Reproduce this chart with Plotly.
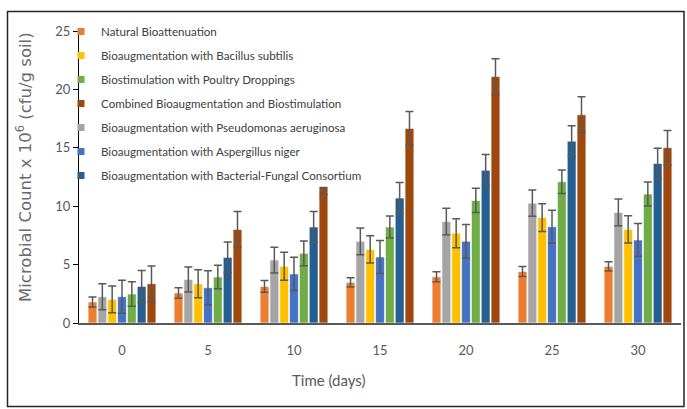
import plotly.graph_objects as go

days = ["0", "5", "10", "15", "20", "25", "30"]

# series names (bar order within each group)
natural_name = "Natural Bioattenuation"
pseudo_name = "Bioaugmentation with Pseudomonas aeruginosa"
bacillus_name = "Bioaugmentation with Bacillus subtilis"
asper_name = "Bioaugmentation with Aspergillus niger"
poultry_name = "Biostimulation with Poultry Droppings"
consort_name = "Bioaugmentation with Bacterial-Fungal Consortium"
combined_name = "Combined Bioaugmentation and Biostimulation"

natural = [1.8, 2.57, 3.13, 3.48, 3.96, 4.41, 4.85]
natural_err = [0.42, 0.45, 0.5, 0.4, 0.42, 0.42, 0.4]
pseudo = [2.25, 3.73, 5.39, 6.99, 8.69, 10.26, 9.47]
pseudo_err = [1.12, 1.07, 1.1, 1.15, 1.13, 1.12, 1.14]
bacillus = [2.02, 3.36, 4.85, 6.3, 7.69, 9.03, 8.01]
bacillus_err = [1.15, 1.2, 1.2, 1.17, 1.24, 1.19, 1.17]
asper = [2.25, 3.02, 4.2, 5.65, 7.0, 8.24, 7.11]
asper_err = [1.42, 1.45, 1.42, 1.42, 1.43, 1.41, 1.4]
poultry = [2.48, 3.94, 5.96, 8.22, 10.49, 12.09, 11.04]
poultry_err = [1.05, 1.0, 1.05, 0.95, 1.04, 1.0, 1.03]
consort = [3.13, 5.62, 8.22, 10.7, 13.08, 15.57, 13.66]
consort_err = [1.37, 1.32, 1.33, 1.32, 1.35, 1.31, 1.3]
combined = [3.36, 8.01, 11.61, 16.66, 21.1, 17.83, 15.01]
combined_err_plus = [1.52, 1.53, 0.0, 1.45, 1.53, 1.55, 1.48]
combined_err_minus = [1.52, 1.53, 0.6, 1.45, 1.53, 1.55, 1.48]

colors = {
    natural_name: "#ED7D31",
    pseudo_name: "#A5A5A5",
    bacillus_name: "#FFC000",
    asper_name: "#4472C4",
    poultry_name: "#70AD47",
    consort_name: "#255E91",
    combined_name: "#9E480E",
}

bar_series = [
    (natural_name, natural, natural_err, natural_err),
    (pseudo_name, pseudo, pseudo_err, pseudo_err),
    (bacillus_name, bacillus, bacillus_err, bacillus_err),
    (asper_name, asper, asper_err, asper_err),
    (poultry_name, poultry, poultry_err, poultry_err),
    (consort_name, consort, consort_err, consort_err),
    (combined_name, combined, combined_err_plus, combined_err_minus),
]

legend_order = [natural_name, bacillus_name, poultry_name, combined_name,
                pseudo_name, asper_name, consort_name]

fig = go.Figure()
for name, vals, ep, em in bar_series:
    fig.add_trace(go.Bar(
        x=days, y=vals, name=name, showlegend=False,
        marker=dict(color=colors[name], line=dict(color="rgba(255,255,255,0.8)", width=0.8)),
        error_y=dict(type="data", array=ep, arrayminus=em, symmetric=False,
                     color="#595959", thickness=1.5, width=4),
    ))

for i, name in enumerate(legend_order):
    fig.add_trace(go.Scatter(
        x=[None], y=[None], mode="markers", name=name,
        legendgroup=f"g{i}",
        marker=dict(symbol="square", size=7, color=colors[name]),
    ))

W, H = 687, 409
L, R, T, B = 79, 6, 31, 86
pw, ph = W - L - R, H - T - B

def px_x(p):
    return (p - L) / pw

def px_y(p):
    return (H - B - p) / ph

fig.update_layout(
    width=W, height=H,
    margin=dict(l=L, r=R, t=T, b=B),
    paper_bgcolor="white", plot_bgcolor="white",
    barmode="group", bargap=0.2, bargroupgap=0.1,
    font=dict(family="Lato", color="#595959"),
    legend=dict(
        x=px_x(61), y=px_y(17), xanchor="left", yanchor="top",
        bgcolor="rgba(0,0,0,0)", tracegroupgap=5,
        font=dict(family="Lato", size=11.6, color="#404040"),
    ),
    xaxis=dict(
        type="category", showline=True, linecolor="#595959", linewidth=2,
        ticks="", showgrid=False, zeroline=False,
        tickfont=dict(family="Lato", size=13, color="#595959"),
        ticklabelstandoff=14,
    ),
    yaxis=dict(
        range=[0, 25], dtick=5, showline=True, linecolor="black", linewidth=1,
        ticks="outside", ticklen=5, tickcolor="black", showgrid=False, zeroline=False,
        tickfont=dict(family="Lato", size=13, color="#595959"),
    ),
    annotations=[
        dict(text="Time (days)", xref="paper", yref="paper",
             x=px_x(329), y=px_y(380), xanchor="center", yanchor="middle", showarrow=False,
             font=dict(family="Lato", size=15, color="#595959")),
        dict(text="Microbial Count x 10<sup>6</sup> (cfu/g soil)", xref="paper", yref="paper",
             x=px_x(24), y=px_y(167), xanchor="center", yanchor="middle",
             showarrow=False, textangle=-90,
             font=dict(family="DejaVu Sans", size=16.5, color="#6b6b6b")),
    ],
    shapes=[
        dict(type="rect", xref="paper", yref="paper",
             x0=px_x(7.5), x1=px_x(684), y0=px_y(406.5), y1=px_y(11.5),
             line=dict(color="#262626", width=1.5), fillcolor="rgba(0,0,0,0)", layer="above"),
    ],
)

fig.write_html("out.html", config={"displayModeBar": False},
               post_script="document.body.style.margin='0';")
